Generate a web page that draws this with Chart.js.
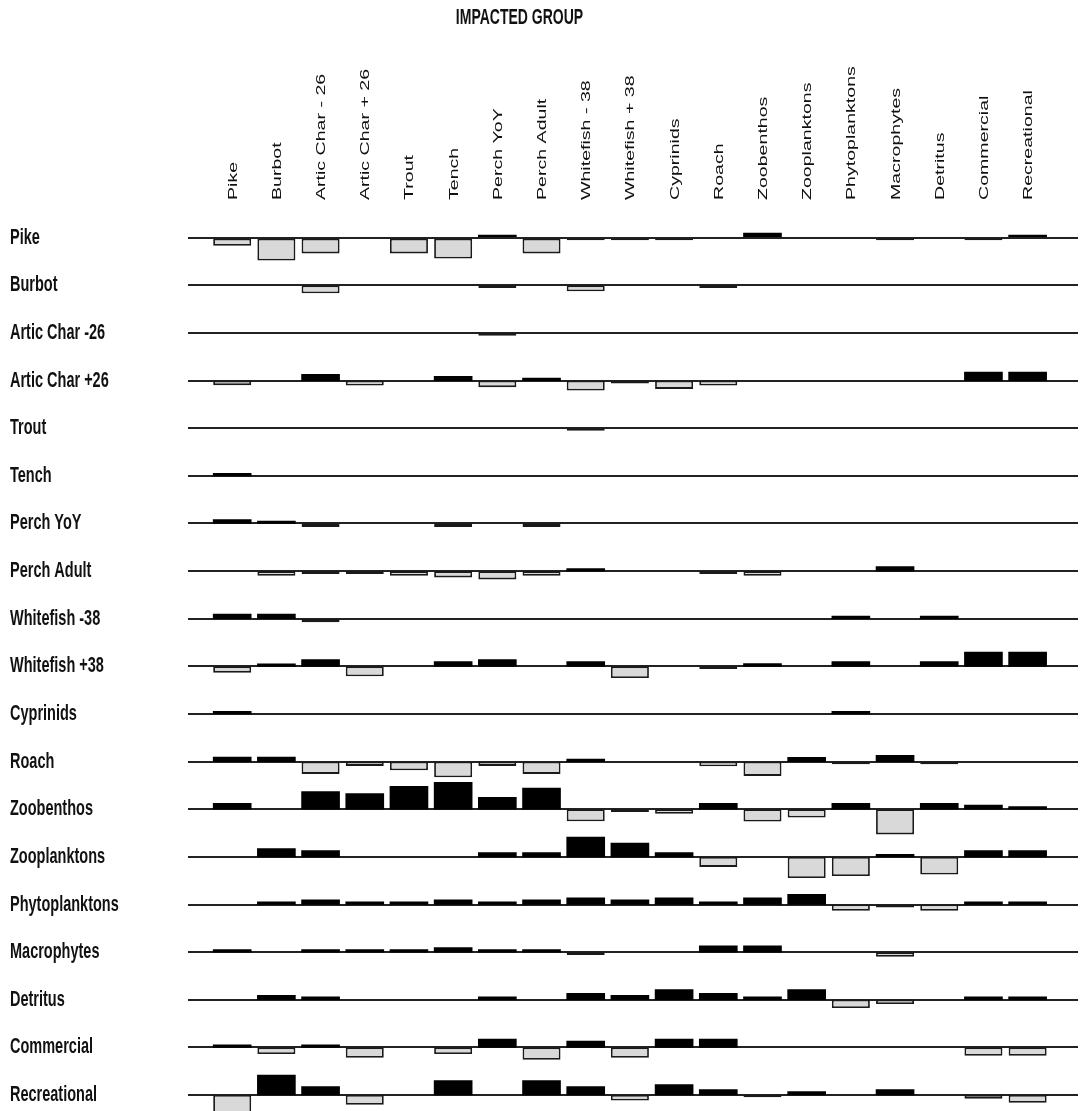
<!DOCTYPE html>
<html>
<head>
<meta charset="utf-8">
<title>Mixed trophic impacts</title>
<script src="https://cdn.jsdelivr.net/npm/chart.js"></script>
<style>
  html, body { margin: 0; padding: 0; background: #fff; overflow: hidden; }
  canvas { display: block; }
</style>
</head>
<body>
<canvas id="mtiChart" width="1081" height="1111"></canvas>
<script>
// rows = impacting group, columns = impacted group
const impactingGroups = ['Pike', 'Burbot', 'Artic Char -26', 'Artic Char +26', 'Trout', 'Tench', 'Perch YoY',
    'Perch Adult', 'Whitefish -38', 'Whitefish +38', 'Cyprinids', 'Roach', 'Zoobenthos', 'Zooplanktons',
    'Phytoplanktons', 'Macrophytes', 'Detritus', 'Commercial', 'Recreational'];
const impactedGroups = ['Pike', 'Burbot', 'Artic Char - 26', 'Artic Char + 26', 'Trout', 'Tench', 'Perch YoY',
    'Perch Adult', 'Whitefish - 38', 'Whitefish + 38', 'Cyprinids', 'Roach', 'Zoobenthos', 'Zooplanktons',
    'Phytoplanktons', 'Macrophytes', 'Detritus', 'Commercial', 'Recreational'];

const pike          = [-0.28, -0.80, -0.55, 0, -0.55, -0.73, 0.09, -0.55, -0.09, -0.09, -0.09, 0, 0.16, 0, 0, -0.09, 0, -0.09, 0.09];
const burbot        = [0, 0, -0.28, 0, 0, 0, -0.09, 0, -0.21, 0, 0, -0.09, 0, 0, 0, 0, 0, 0, 0];
const articCharM26  = [0, 0, 0, 0, 0, 0, -0.10, 0, 0, 0, 0, 0, 0, 0, 0, 0, 0, 0, 0];
const articCharP26  = [-0.16, 0, 0.22, -0.17, 0, 0.15, -0.23, 0.09, -0.35, -0.10, -0.29, -0.17, 0, 0, 0, 0, 0, 0.30, 0.30];
const trout         = [0, 0, 0, 0, 0, 0, 0, 0, -0.09, 0, 0, 0, 0, 0, 0, 0, 0, 0, 0];
const tench         = [0.09, 0, 0, 0, 0, 0, 0, 0, 0, 0, 0, 0, 0, 0, 0, 0, 0, 0, 0];
const perchYoY      = [0.14, 0.08, -0.12, 0, 0, -0.12, 0, -0.12, 0, 0, 0, 0, 0, 0, 0, 0, 0, 0, 0];
const perchAdult    = [0, -0.16, -0.10, -0.10, -0.16, -0.22, -0.29, -0.16, 0.09, 0, 0, -0.10, -0.16, 0, 0, 0.16, 0, 0, 0];
const whitefishM38  = [0.16, 0.16, -0.12, 0, 0, 0, 0, 0, 0, 0, 0, 0, 0, 0, 0.09, 0, 0.09, 0, 0];
const whitefishP38  = [-0.22, 0.09, 0.24, -0.35, 0, 0.17, 0.24, 0, 0.17, -0.41, 0, -0.09, 0.10, 0, 0.17, 0, 0.17, 0.50, 0.50];
const cyprinids     = [0.09, 0, 0, 0, 0, 0, 0, 0, 0, 0, 0, 0, 0, 0, 0.09, 0, 0, 0, 0];
const roach         = [0.16, 0.16, -0.43, -0.15, -0.30, -0.55, -0.15, -0.43, 0.09, 0, 0, -0.16, -0.50, 0.15, -0.09, 0.22, -0.09, 0, 0];
const zoobenthos    = [0.21, 0, 0.62, 0.55, 0.80, 0.94, 0.42, 0.74, -0.42, -0.10, -0.16, 0.21, -0.43, -0.29, 0.21, -0.88, 0.21, 0.15, 0.09];
const zooplanktons  = [0, 0.29, 0.22, 0, 0, 0, 0.15, 0.15, 0.69, 0.48, 0.15, -0.35, 0, -0.74, -0.67, 0.09, -0.62, 0.22, 0.22];
const phytoplanktons = [0, 0.09, 0.16, 0.09, 0.09, 0.16, 0.09, 0.16, 0.23, 0.16, 0.23, 0.09, 0.23, 0.36, -0.22, -0.10, -0.22, 0.09, 0.09];
const macrophytes   = [0.09, 0, 0.09, 0.09, 0.09, 0.16, 0.09, 0.09, -0.10, 0, 0, 0.22, 0.22, 0, 0, -0.16, 0, 0, 0];
const detritus      = [0, 0.16, 0.10, 0, 0, 0, 0.10, 0, 0.23, 0.16, 0.36, 0.23, 0.10, 0.36, -0.29, -0.15, 0, 0.10, 0.10];
const commercial    = [0.09, -0.23, 0.09, -0.36, 0, -0.23, 0.29, -0.43, 0.22, -0.36, 0.29, 0.29, 0, 0, 0, 0, 0, -0.29, -0.29];
const recreational  = [-0.70, 0.70, 0.30, -0.34, 0, 0.51, 0, 0.51, 0.30, -0.19, 0.37, 0.19, -0.08, 0.12, 0, 0.19, 0, -0.13, -0.27];

const impacts = [pike, burbot, articCharM26, articCharP26, trout, tench, perchYoY, perchAdult, whitefishM38,
    whitefishP38, cyprinids, roach, zoobenthos, zooplanktons, phytoplanktons, macrophytes, detritus,
    commercial, recreational];

// one row of the plot is 1 unit on y; an impact of 1 takes this share of a row
const barScale = 0.6;

const datasets = impacts.map((row, i) => {
    const cells = row.map((v, j) => ({ x: j + 1, v })).filter(c => c.v !== 0);
    return {
        label: impactingGroups[i],
        data: cells.map(c => ({ x: c.x, y: [-i, -i + c.v * barScale] })),
        backgroundColor: cells.map(c => c.v > 0 ? '#000' : '#d9d9d9'),
        borderColor: cells.map(c => c.v > 0 ? '#000' : '#1a1a1a'),
        borderWidth: cells.map(c => c.v > 0 ? 0 : 1.8),
        inflateAmount: cells.map(c => c.v > 0 ? 0.33 : 0),
        borderSkipped: false,
        barThickness: 38,
        grouped: false
    };
});

// the original picture is stretched vertically, so its text looks tall and narrow
function stretchLabels(box, method, sx, sy, dy) {
    if (!box || box._stretched) return;
    const draw = box[method].bind(box);
    box[method] = function (...args) {
        const ctx = box.ctx;
        const fill = ctx.fillText;
        ctx.fillText = function (text, x, y, maxWidth) {
            this.save();
            this.translate(x, y + dy);
            this.scale(sx, sy);
            if (maxWidth === undefined) fill.call(this, text, 0, 0);
            else fill.call(this, text, 0, 0, maxWidth / sx);
            this.restore();
        };
        draw(...args);
        delete ctx.fillText;
    };
    box._stretched = true;
}

const stretched = {
    id: 'stretched',
    afterLayout(chart) {
        // title sits a bit left of the canvas centre
        if (chart.titleBlock) {
            chart.titleBlock.left = 0;
            chart.titleBlock.right = 1039;
        }
    },
    beforeDraw(chart) {
        stretchLabels(chart.scales.x, 'drawLabels', 1.45, 1, 17);
        stretchLabels(chart.scales.y, 'drawLabels', 1, 1.5, 0);
        stretchLabels(chart.titleBlock, 'draw', 1, 1.6, 0);
    }
};

new Chart(document.getElementById('mtiChart'), {
    type: 'bar',
    data: { datasets },
    plugins: [stretched],
    options: {
        responsive: false,
        animation: false,
        layout: { padding: { left: 10, right: 3, top: 0, bottom: 0 } },
        plugins: {
            legend: { display: false },
            tooltip: { enabled: false },
            title: {
                display: true,
                text: 'IMPACTED GROUP',
                color: '#111',
                font: { family: 'Liberation Sans', weight: 'bold', size: 14 },
                padding: { top: 9, bottom: 0 }
            }
        },
        scales: {
            x: {
                type: 'linear',
                position: 'top',
                offset: false,
                min: 0,
                max: 20.14,
                afterBuildTicks: axis => { axis.ticks = impactedGroups.map((g, j) => ({ value: j + 1 })); },
                afterFit: axis => {
                    axis.height = 179.2;
                    axis.paddingLeft = 0;
                    axis.paddingRight = 0;
                },
                grid: { display: false, drawTicks: false, offset: false },
                border: { display: false },
                ticks: {
                    autoSkip: false,
                    minRotation: 90,
                    maxRotation: 90,
                    padding: 5,
                    color: '#111',
                    font: { family: 'Liberation Sans', size: 13.5 },
                    callback: (value, index) => impactedGroups[index]
                }
            },
            y: {
                type: 'linear',
                min: -18.335,
                max: 0.6865,
                afterBuildTicks: axis => { axis.ticks = impactingGroups.map((g, i) => ({ value: -i })); },
                afterFit: axis => {
                    axis.width = 178;
                    axis.paddingTop = 0;
                    axis.paddingBottom = 0;
                },
                grid: { color: '#222', lineWidth: 2, drawTicks: false },
                border: { display: false },
                ticks: {
                    autoSkip: false,
                    crossAlign: 'far',
                    color: '#111',
                    font: { family: 'Liberation Sans', weight: 'bold', size: 14.5 },
                    callback: (value, index) => impactingGroups[index]
                }
            }
        }
    }
});
</script>
</body>
</html>
